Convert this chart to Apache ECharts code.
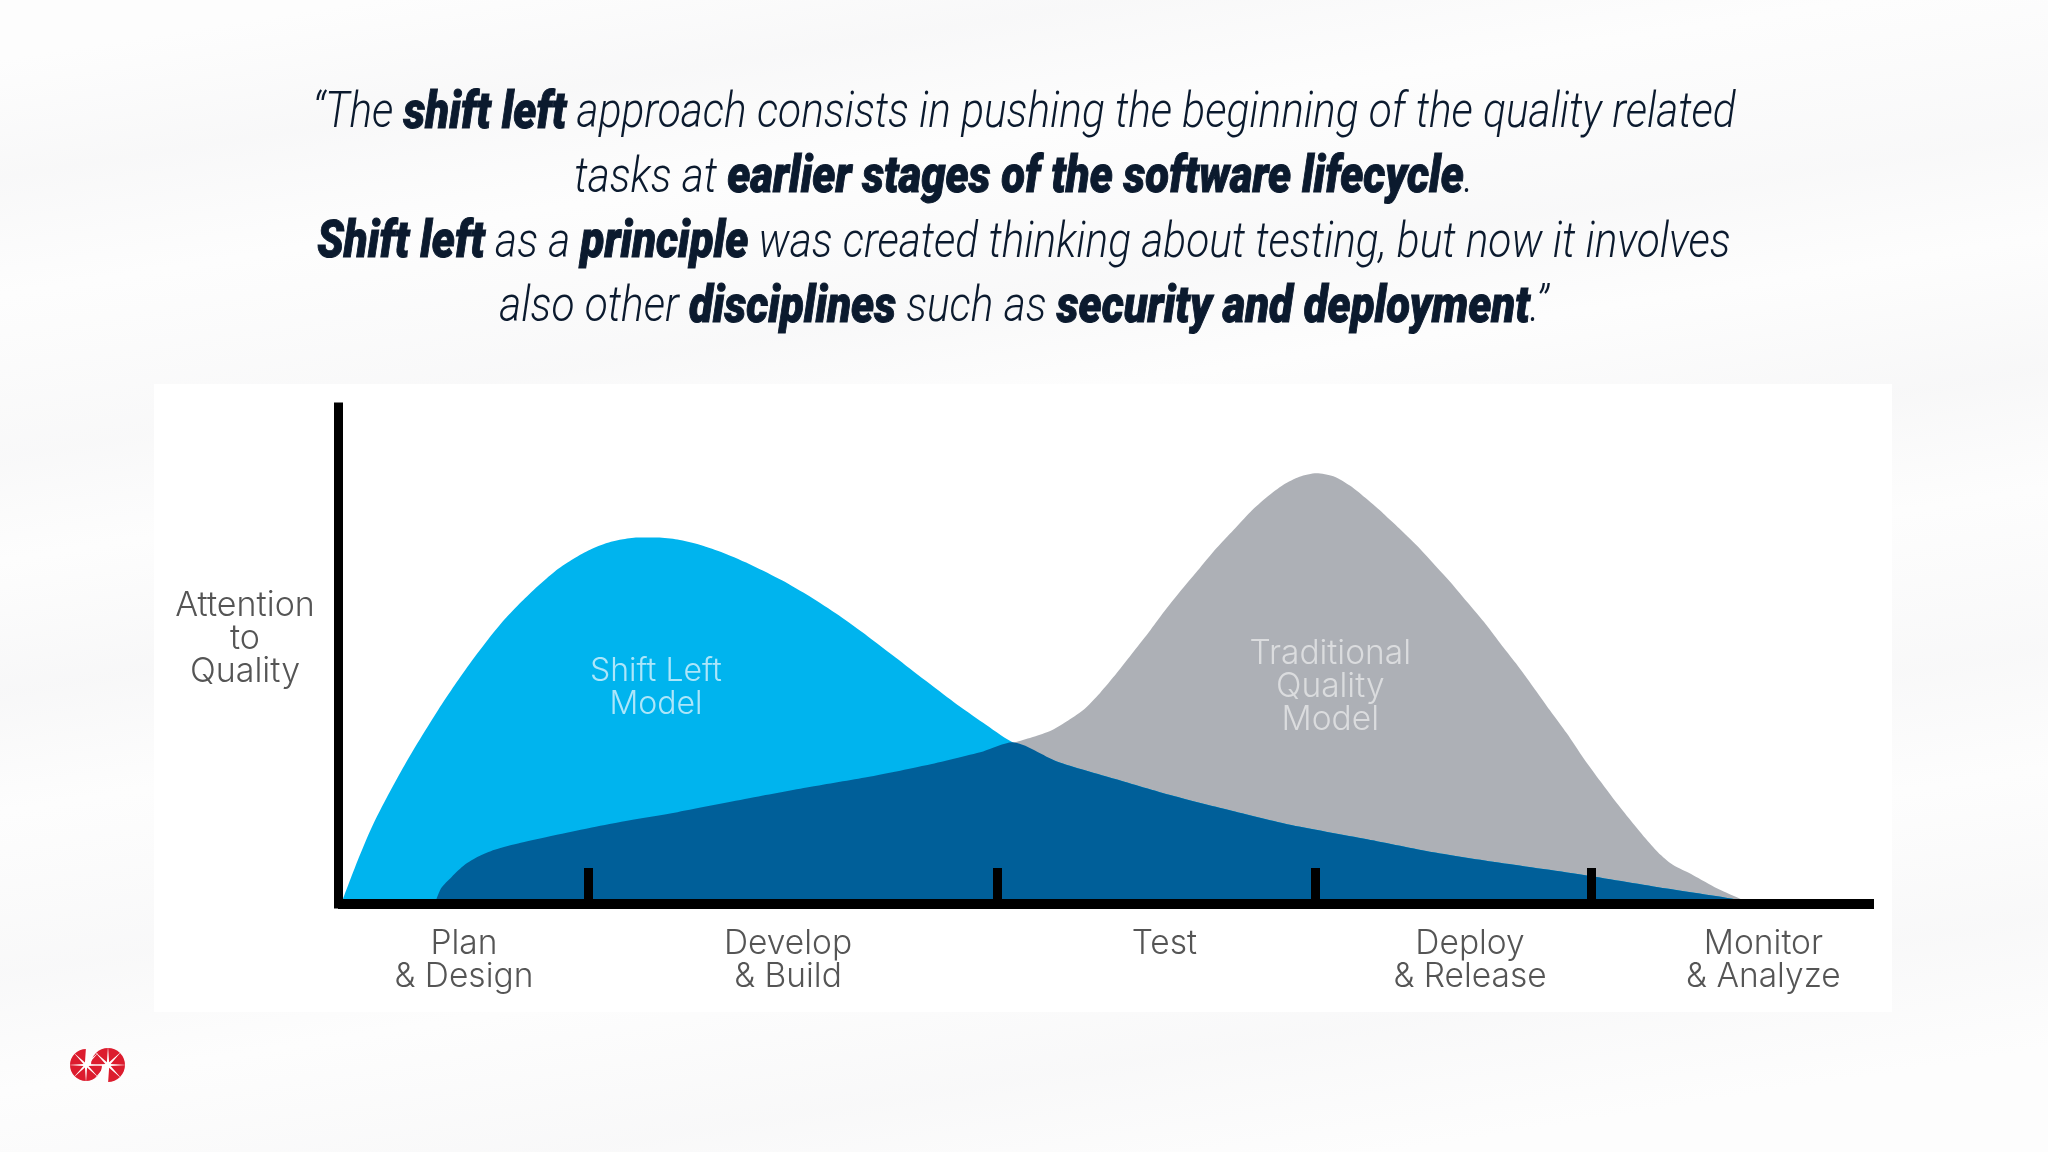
<!DOCTYPE html>
<html><head><meta charset="utf-8">
<style>
html,body{margin:0;padding:0;width:2048px;height:1152px;overflow:hidden;background-color:#fdfdfd;
background-image:
linear-gradient(171deg,rgba(255,255,255,0) 4%,rgba(244,244,245,.55) 12%,rgba(255,255,255,0) 20%,rgba(244,244,245,.5) 31%,rgba(255,255,255,0) 38%,rgba(244,244,245,.6) 47%,rgba(255,255,255,0) 55%,rgba(244,244,245,.5) 66%,rgba(255,255,255,0) 74%,rgba(244,244,245,.5) 84%,rgba(255,255,255,0) 93%);}
#c{width:2048px;height:1152px}
</style></head><body><div id="c"></div>
<script src="https://cdn.jsdelivr.net/npm/echarts@6/dist/echarts.min.js"></script>
<script>
const stages=['Plan\n& Design','Develop\n& Build','Test','Deploy\n& Release','Monitor\n& Analyze'];
const stageLabelAt=[8.2,29.3,53.8,73.7,92.8];
const stageBoundaries=[16.3,42.9,63.6,81.6];
const yAxisTitle='Attention\nto\nQuality\n ';
const shiftLeftName='Shift Left\nModel';
const traditionalName='Traditional\nQuality\nModel';
const shiftLeft=[[0.2,0],[1.3,8.8],[2.17,15.1],[3.26,21.7],[4.34,27.7],[5.43,33.3],[6.51,38.6],[7.6,43.6],[8.68,48.3],[9.77,52.7],[10.85,56.7],[11.94,60.2],[13,63.3],[14.1,66.2],[15.2,68.5],[16.3,70.4],[17.4,71.8],[18.45,72.6],[19.5,73],[20.8,73],[22.1,72.6],[23.6,71.5],[25.1,69.9],[27,67.4],[28.9,64.5],[30.7,61.3],[32.6,57.5],[34.5,53.3],[36.3,49.1],[38.2,44.6],[40.1,40.2],[42,36.1],[43.8,32.4],[46.8,28.4],[50.6,24.9],[54.3,21.6],[58,18.7],[61.8,15.9],[67,12.9],[71.3,10.3],[75.65,8.2],[81.3,5.7],[86.5,3.1],[91.5,0.7],[92.2,0]];
const traditional=[[6.3,0],[6.7,3.1],[7.4,5.4],[8.25,7.8],[9.1,9.4],[10.2,10.8],[11.9,12.2],[14.1,13.7],[16.3,15.1],[18.45,16.4],[22.1,18.3],[27,21.2],[30.7,23.3],[34.5,25.3],[38.2,27.6],[42,30.4],[44.2,32.3],[45.3,33.3],[46.4,34.5],[47.4,36.3],[48.5,38.6],[49.6,42],[50.7,46],[51.8,50.3],[52.9,54.6],[53.95,58.9],[55,62.9],[56.1,66.9],[57.2,70.9],[58.3,74.5],[59.4,78.1],[60.5,81.1],[61.55,83.5],[62.6,85.1],[63.7,85.8],[64.8,85.2],[65.9,83.3],[67,80.6],[68.05,77.8],[69.1,74.8],[70.2,71.5],[71.3,67.9],[72.4,64.2],[73.5,60.2],[74.6,56.2],[75.65,52],[76.7,47.9],[77.8,43.3],[78.9,38.6],[80,34],[81.1,29],[82.2,24.4],[83.25,20.1],[84.3,16.1],[85.4,12.1],[86.1,9.8],[86.9,7.8],[88.2,5.8],[89.8,3.1],[91.5,0.8],[92.4,0]];
const overlap=[[6.3,0],[6.7,3.1],[7.4,5.4],[8.25,7.8],[9.1,9.4],[10.2,10.8],[11.9,12.2],[14.1,13.7],[16.3,15.1],[18.45,16.4],[22.1,18.3],[27,21.2],[30.7,23.3],[34.5,25.3],[38.2,27.6],[42,30.4],[43.9,32.2],[46.8,28.4],[50.6,24.9],[54.3,21.6],[58,18.7],[61.8,15.9],[67,12.9],[71.3,10.3],[75.65,8.2],[81.3,5.7],[86.5,3.1],[91.5,0.7],[92.2,0]];
const quoteLines=[
 [['r','“The '],['b','shift left'],['r',' approach consists in pushing the beginning of the quality related']],
 [['r','tasks at '],['b','earlier stages of the software lifecycle'],['r','.']],
 [['b','Shift left'],['r',' as a '],['b','principle'],['r',' was created thinking about testing, but now it involves']],
 [['r','also other '],['b','disciplines'],['r',' such as '],['b','security and deployment'],['r','.”']]
];
const LF='Inter';
const chart=echarts.init(document.getElementById('c'),null,{renderer:'canvas'});
const area=(name,data,color,z)=>({name,type:'line',data,smooth:0.25,symbol:'none',z,
  lineStyle:{width:0},areaStyle:{color,opacity:1},silent:true,clip:false});
const nameLabel=(name,x,y,color,size)=>({type:'scatter',symbolSize:0,z:6,silent:true,data:[[x,y]],
  label:{show:true,position:'inside',formatter:name,color,fontFamily:LF,fontWeight:300,fontSize:size,lineHeight:33,align:'center',verticalAlign:'middle'}});
function logoDisc(cx,cy,r,gapFrom,gapTo){
  const pts=[];
  for(let i=0;i<16;i++){const a=i*Math.PI/8,R=i%2?r*0.17:r+2;pts.push([cx+R*Math.cos(a),cy+R*Math.sin(a)]);}
  const d=Math.PI/180;
  return [
    {type:'sector',silent:true,z:20,shape:{cx,cy,r,r0:0,startAngle:gapTo*d,endAngle:(gapFrom+360)*d},style:{fill:'#dc1c2e'}},
    {type:'polygon',silent:true,z:21,shape:{points:pts},style:{fill:'#fff'}}
  ];
}
chart.setOption({
  backgroundColor:'transparent',animation:false,
  grid:{left:338,right:174,top:407,bottom:248,containLabel:false},
  xAxis:{type:'value',min:0,max:100,z:5,splitLine:{show:false},
    axisLine:{show:true,onZero:true,lineStyle:{color:'#000',width:10,cap:'butt'}},
    axisTick:{show:true,inside:true,length:36,customValues:stageBoundaries,lineStyle:{color:'#000',width:9}},
    axisLabel:{show:true,customValues:stageLabelAt,hideOverlap:false,margin:23,color:'#555',fontFamily:LF,fontWeight:300,fontSize:33.5,lineHeight:33,verticalAlign:'top',align:'center',
      formatter:v=>stages[stageLabelAt.indexOf(v)]||''}},
  yAxis:{type:'value',min:0,max:99,z:5,splitLine:{show:false},axisTick:{show:false},axisLabel:{show:false},
    axisLine:{show:true,onZero:false,lineStyle:{color:'#000',width:9,cap:'square'}},
    name:yAxisTitle,nameLocation:'middle',nameRotate:0,nameGap:93,
    nameTextStyle:{color:'#555',fontFamily:LF,fontWeight:300,fontSize:34,lineHeight:33,align:'center',verticalAlign:'middle'}},
  graphic:[
    {type:'rect',z:-10,silent:true,shape:{x:154,y:384,width:1738,height:628},style:{fill:'#fff'}},
    {type:'text',z:10,silent:true,x:1024,y:212,scaleX:0.857,scaleY:1,
      style:{text:quoteLines.map(l=>l.map(([s,t])=>'{'+s+'|'+t+'}').join('')).join('\n'),align:'center',verticalAlign:'middle',
        rich:{r:{fontFamily:'Roboto',fontStyle:'italic',fontWeight:300,fontSize:49.5,lineHeight:64.7,fill:'#0b1a2e'},
              b:{fontFamily:'Roboto',fontStyle:'italic',fontWeight:900,fontSize:51,lineHeight:64.7,fill:'#0b1a2e',stroke:'#0b1a2e',lineWidth:1}}}},
    ...logoDisc(86,1065,16,-90,0),
    ...logoDisc(108,1065,17,90,180)
  ],
  series:[
    area('Traditional Quality Model',traditional,'#adb0b6',2),
    area('Shift Left Model',shiftLeft,'#00b4ee',3),
    area('Overlap',overlap,'#005f99',4),
    nameLabel(shiftLeftName,20.7,43.1,'#d8f3fc',32),
    nameLabel(traditionalName,64.6,43.2,'#e6e7e8',33.5)
  ]
});
</script></body></html>
